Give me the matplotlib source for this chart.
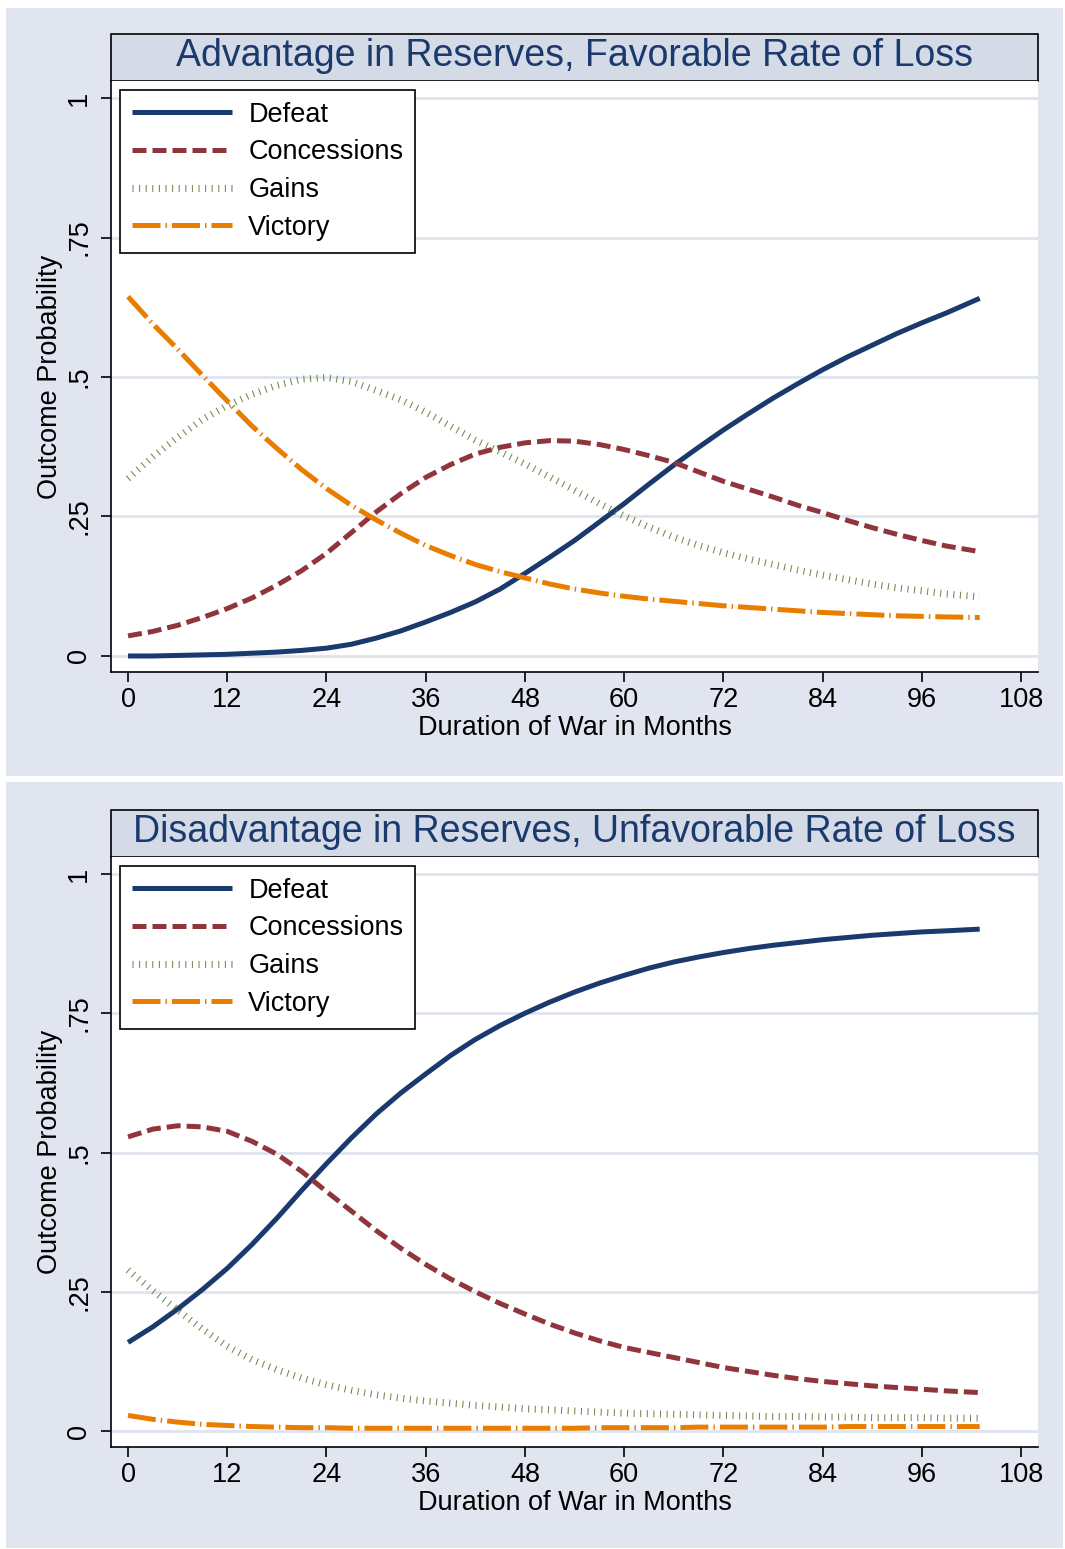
import matplotlib
matplotlib.use("Agg")
import matplotlib.pyplot as plt
from matplotlib.patches import Rectangle

plt.rcParams["font.family"] = ["Liberation Sans", "DejaVu Sans"]

months = [0, 3, 6, 9, 12, 15, 18, 21, 24, 27,
          30, 33, 36, 39, 42, 45, 48, 51, 54, 57,
          60, 63, 66, 69, 72, 75, 78, 81, 84, 87,
          90, 93, 96, 99, 103]

# panel 1: advantage in reserves, favorable rate of loss
adv_defeat = [.000, .000, .001, .002, .003, .005, .007, .010, .014, .021,
              .032, .045, .061, .078, .097, .120, .148, .177, .207, .240,
              .273, .308, .342, .374, .405, .434, .462, .488, .513, .536,
              .557, .578, .597, .615, .641]
adv_concessions = [.036, .044, .055, .069, .085, .104, .127, .153, .184, .221,
                   .258, .291, .320, .343, .362, .374, .382, .386, .385, .379,
                   .370, .359, .347, .330, .313, .299, .285, .270, .257, .243,
                   .230, .218, .207, .197, .187]
adv_gains = [.318, .357, .392, .424, .449, .469, .485, .496, .499, .492,
             .476, .459, .437, .412, .387, .366, .344, .321, .297, .273,
             .251, .231, .213, .198, .185, .174, .164, .154, .145, .137,
             .129, .122, .117, .111, .106]
adv_victory = [.644, .595, .550, .503, .457, .412, .372, .334, .300, .270,
               .244, .220, .198, .180, .164, .151, .140, .129, .120, .113,
               .107, .102, .098, .094, .090, .087, .084, .081, .078, .076,
               .074, .072, .071, .070, .069]

# panel 2: disadvantage in reserves, unfavorable rate of loss
dis_defeat = [.159, .187, .219, .254, .292, .335, .382, .432, .480, .526,
              .569, .607, .641, .674, .703, .728, .750, .770, .788, .804,
              .818, .831, .842, .851, .859, .866, .872, .877, .882, .886,
              .890, .893, .896, .898, .901]
dis_concessions = [.528, .542, .548, .546, .538, .520, .497, .466, .430, .395,
                   .360, .328, .299, .273, .250, .229, .210, .192, .176, .162,
                   .150, .141, .132, .123, .114, .107, .100, .094, .089, .085,
                   .081, .078, .075, .072, .069]
dis_gains = [.289, .252, .217, .183, .152, .128, .110, .095, .083, .073,
             .065, .059, .054, .050, .046, .043, .040, .038, .036, .034,
             .032, .031, .030, .029, .028, .027, .026, .026, .025, .025,
             .024, .024, .024, .023, .023]
dis_victory = [.028, .021, .016, .012, .010, .008, .007, .006, .006, .005,
               .005, .005, .005, .005, .005, .005, .005, .005, .005, .006,
               .006, .006, .006, .007, .007, .007, .007, .007, .007, .008,
               .008, .008, .008, .008, .008]

titles = ["Advantage in Reserves, Favorable Rate of Loss",
          "Disadvantage in Reserves, Unfavorable Rate of Loss"]
labels = ["Defeat", "Concessions", "Gains", "Victory"]
xticks = [0, 12, 24, 36, 48, 60, 72, 84, 96, 108]
yticks = [0, 0.25, 0.5, 0.75, 1]
yticklabels = ["0", ".25", ".5", ".75", "1"]

BG = "#e0e5f0"
TITLE_BG = "#d4dbe7"
GRID = "#dfe4ef"
NAVY = "#1a3a6e"

styles = [
    dict(color=NAVY, lw=3.6, ls="-", solid_capstyle="butt"),
    dict(color="#90353b", lw=3.6, dashes=(2.8, 1.2), dash_capstyle="butt"),
    dict(color="#55752f", lw=5, dashes=(0.15, 0.8), dash_capstyle="butt", alpha=0.85),
    dict(color="#e87d00", lw=3.6, dashes=(5.6, 1.0, 0.3, 1.0), dash_capstyle="butt"),
]

W, H = 1065, 1549
fig = plt.figure(figsize=(W / 100, H / 100), dpi=100)
fig.patch.set_facecolor("white")


def fx(px):
    return px / W


def fy(py):
    return 1 - py / H


panels = [
    dict(bg=(8, 776), title=(34, 81), plot=(81, 672),
         data=[adv_defeat, adv_concessions, adv_gains, adv_victory]),
    dict(bg=(782, 1548), title=(810, 857), plot=(857, 1447),
         data=[dis_defeat, dis_concessions, dis_gains, dis_victory]),
]

left, right = 111, 1038
for i, p in enumerate(panels):
    y0, y1 = p["bg"]
    fig.patches.append(Rectangle((fx(6), fy(y1)), fx(1063 - 6), (y1 - y0) / H,
                                 transform=fig.transFigure, facecolor=BG,
                                 edgecolor="none", zorder=-2))
    t0, t1 = p["title"]
    fig.patches.append(Rectangle((fx(left), fy(t1)), fx(right - left), (t1 - t0) / H,
                                 transform=fig.transFigure, facecolor=TITLE_BG,
                                 edgecolor="black", lw=1.2, zorder=-1))
    fig.text(fx((left + right) / 2), fy((t0 + t1) / 2) + 0.001, titles[i], ha="center",
             va="center", fontsize=27, color=NAVY)

    a0, a1 = p["plot"]
    ax = fig.add_axes([fx(left), fy(a1), fx(right - left), (a1 - a0) / H])
    ax.set_zorder(2)
    ax.set_facecolor("white")
    for lab, ys, st in zip(labels, p["data"], styles):
        ax.plot(months, ys, label=lab, **st)

    ax.set_xlim(-2.06, 110.05)
    ax.set_ylim(-0.0287, 1.0305)
    ax.set_xticks(xticks)
    ax.set_yticks(yticks)
    ax.set_yticklabels(yticklabels, rotation=90, va="center")
    ax.grid(axis="y", color=GRID, lw=2)
    ax.set_axisbelow(True)
    for s in ["top", "right"]:
        ax.spines[s].set_visible(False)
    for s in ["left", "bottom"]:
        ax.spines[s].set_linewidth(1.2)
    ax.tick_params(direction="out", length=7.5, width=1.2, labelsize=19.5, pad=3.5)
    ax.tick_params(axis="y", pad=6)
    ax.set_xlabel("Duration of War in Months", fontsize=19.5, labelpad=1)
    ax.set_ylabel("Outcome Probability", fontsize=19.5, labelpad=2)

    leg = ax.legend(loc="upper left", bbox_to_anchor=(0.0097, 0.985), borderaxespad=0,
                    fontsize=19.5, handlelength=3.7, handletextpad=0.6,
                    labelspacing=0.43, fancybox=False, framealpha=1,
                    edgecolor="black", borderpad=0.44)
    leg.get_frame().set_linewidth(1.2)

fig.savefig("out.png", dpi=100, facecolor=fig.get_facecolor())
